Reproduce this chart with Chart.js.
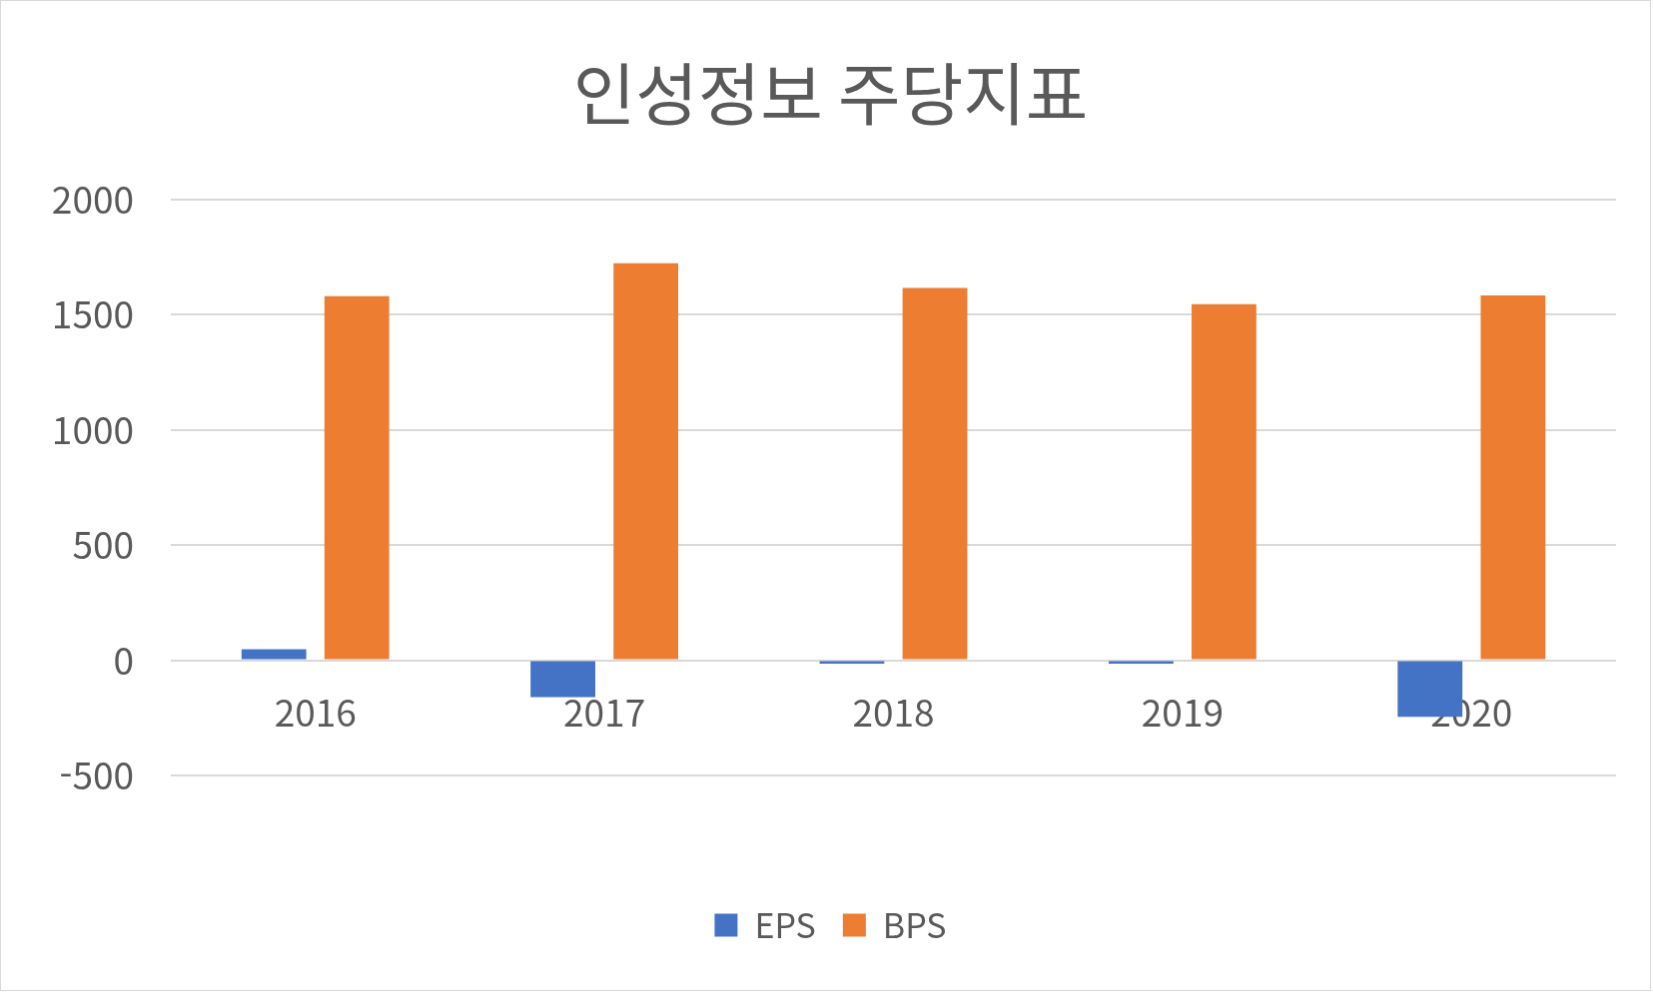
<!DOCTYPE html>
<html lang="ko">
<head>
  <meta charset="UTF-8" />
  <title>인성정보 주당지표</title>
  <script src="https://cdn.jsdelivr.net/npm/chart.js"></script>
  <style>
    html, body { margin: 0; padding: 0; background: #fff; }
    #chart { display: block; border: 1px solid #d9d9d9; }
  </style>
</head>
<body>
  <canvas id="chart" width="1651" height="991"></canvas>

  <script>
    // 연도별 주당지표
    const years = ['2016', '2017', '2018', '2019', '2020'];
    const eps = [48, -160, -15, -15, -246];
    const bps = [1579, 1722, 1615, 1545, 1583];
    const yTicks = [-500, 0, 500, 1000, 1500, 2000];

    const textColor = '#595959';
    const gridColor = '#d9d9d9';
    const fontFamily = "'Noto Sans CJK KR', 'Noto Sans', sans-serif";

    const ctx = document.getElementById('chart').getContext('2d');
    new Chart(ctx, {
      type: 'bar',
      data: {
        labels: years,
        datasets: [
          { label: 'EPS', data: eps, backgroundColor: '#4472c4', categoryPercentage: 0.574, barPercentage: 0.78 },
          { label: 'BPS', data: bps, backgroundColor: '#ed7d31', categoryPercentage: 0.574, barPercentage: 0.78 }
        ]
      },
      options: {
        responsive: false,
        animation: false,
        layout: { padding: { left: 10, right: 0, top: 0, bottom: 38 } },
        plugins: {
          title: {
            display: true,
            text: '인성정보 주당지표',
            color: textColor,
            font: { family: fontFamily, size: 68, weight: 'normal' },
            padding: { top: 52, bottom: 65 }
          },
          legend: {
            position: 'bottom',
            labels: {
              color: textColor,
              boxWidth: 23,
              boxHeight: 23,
              padding: 27,
              font: { family: fontFamily, size: 34 }
            }
          },
          tooltip: { enabled: false }
        },
        scales: {
          x: {
            position: { y: 0 },
            grid: { display: false, drawTicks: false },
            border: { display: false },
            ticks: { color: textColor, padding: 30, font: { family: fontFamily, size: 37 } }
          },
          // 빈 축: 아래쪽/오른쪽 여백용
          xpad: {
            type: 'category',
            position: 'bottom',
            grid: { display: false, drawTicks: false },
            border: { display: false },
            ticks: { display: false },
            afterFit: s => { s.height = 106; }
          },
          y: {
            min: -500,
            max: 2000,
            afterBuildTicks: s => { s.ticks = yTicks.map(v => ({ value: v })); },
            grid: { color: gridColor, lineWidth: 2, drawTicks: false },
            border: { display: false },
            ticks: { color: textColor, padding: 37, font: { family: fontFamily, size: 37 }, callback: v => String(v) },
            afterFit: s => { s.width = 160; }
          },
          ypad: {
            position: 'right',
            min: 0,
            max: 1,
            grid: { display: false, drawTicks: false },
            border: { display: false },
            ticks: { display: false },
            afterFit: s => { s.width = 34; }
          }
        }
      }
    });
  </script>
</body>
</html>
